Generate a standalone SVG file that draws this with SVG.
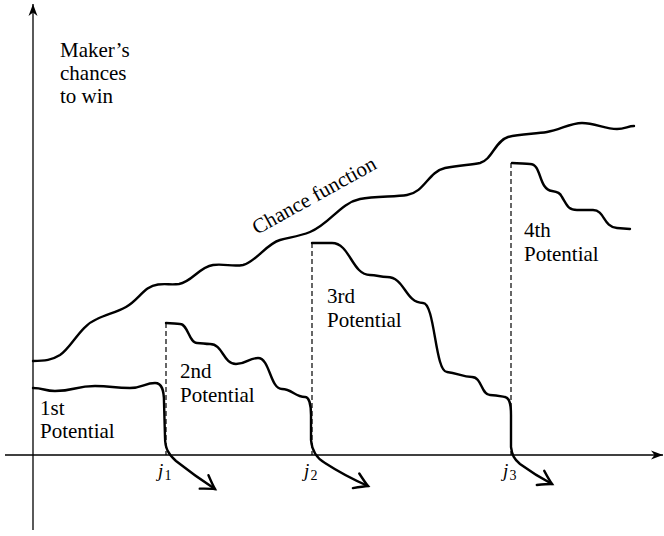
<svg xmlns="http://www.w3.org/2000/svg" width="664" height="536" viewBox="0 0 664 536">
<style>
text{font-family:"Liberation Serif","Times New Roman",serif;font-size:21px;fill:#000}
.ax{fill:none;stroke:#000;stroke-width:1.3}
.cv{fill:none;stroke:#000;stroke-width:2.4;stroke-linejoin:round;stroke-linecap:round}
.dash{fill:none;stroke:#000;stroke-width:1.2;stroke-dasharray:5 3}
.j{font-style:italic;font-size:19px}
.sub{font-size:14px}
</style>
<defs>
<marker id="stealth" markerUnits="userSpaceOnUse" markerWidth="16" markerHeight="12" viewBox="-13 -6 14 12" refX="0" refY="0" orient="auto">
<path d="M0,0 L-12,-4.5 L-8.5,0 L-12,4.5 Z" fill="#000"/>
</marker>
<marker id="to" markerUnits="userSpaceOnUse" markerWidth="20" markerHeight="20" viewBox="-16 -10 20 20" refX="0" refY="0" orient="auto">
<path d="M-13,-8 Q-4,-2 0,0 Q-4,2 -13,8" fill="none" stroke="#000" stroke-width="2.4" stroke-linecap="round"/>
</marker>
</defs>
<g id="axes">
<line class="ax" x1="33" y1="530" x2="33" y2="4" marker-end="url(#stealth)"/>
<line class="ax" x1="5" y1="455" x2="663" y2="455" marker-end="url(#stealth)"/>
</g>
<g id="connectors">
<line class="dash" x1="166" y1="323" x2="166" y2="455"/>
<line class="dash" x1="312" y1="243" x2="312" y2="455"/>
<line class="dash" x1="511" y1="163" x2="511" y2="455"/>
</g>
<g id="chance-function">
<path class="cv" d="M33,361 C45,361 52,360 60,355 C72,347 80,326 97,319 C108,314 117,312 126,307 C139,300 144,286 158,284.5 C166,283.5 171,285 179,284 C192,282 199,267 213,265 C225,263.5 232,267 243,265 C256,262 266,244 280,240 C292,237 300,236 310,232 C330,224 340,203 360,199 C375,196 395,197 407,195 C425,192 428,172 445,168 C460,165 470,165 480,163 C492,160 495,141 508,137 C520,134 535,134 547,132 C560,130 570,123 582,123 C595,123 605,129 617,129 C625,129 628,126 634,126"/>
<text transform="translate(257,235) rotate(-29)">Chance function</text>
</g>
<g id="potential-1">
<path class="cv" d="M33,388 C44,388 44,391 55,391 C75,391 75,386 95,386 C112,386 113,388 130,388 C142,388 145,383 155,383 C162,383 164,390 164,402 L165,437 C165,448 168,454 176,461 Q195,476 215,489" marker-end="url(#to)"/>
<text x="40" y="415">1st</text>
<text x="40" y="438">Potential</text>
</g>
<g id="potential-2">
<path class="cv" d="M166,323 C173,323 175,324 180,324 C188,324 189,343 197,343 C203,343 204,344 210,344 C223,344 223,364 236,364 C247,364 248,358 258,358 C270,358 270,389 282,389 C292,389 295,397 305,397 C309,397 311,405 311,415 L311,440 C312,451 316,458 325,463 Q345,476 368,486" marker-end="url(#to)"/>
<text x="180" y="378">2nd</text>
<text x="180" y="402">Potential</text>
</g>
<g id="potential-3">
<path class="cv" d="M312,243 L332,243 C350,243 352,275 370,275 C377,275 380,277 387,277 C405,277 405,303 423,303 C435,303 435,372 447,372 C458,373 462,377 472,377 C482,377 481,395 490,395 C496,395 500,396 505,397 C510,398 511,405 511,415 L511,447 C512,455 514,459 520,464 Q535,475 552,484" marker-end="url(#to)"/>
<text x="327" y="303">3rd</text>
<text x="327" y="327">Potential</text>
</g>
<g id="potential-4">
<path class="cv" d="M512,163 C520,163 524,164 530,164 C542,164 538,189 552,191 C558,192 560,193 562,197 C567,205 568,210 577,210 L593,210 C605,210 603,227 617,228 L630,229"/>
<text x="524" y="237">4th</text>
<text x="524" y="261">Potential</text>
</g>
<g id="label-y">
<text x="60" y="57">Maker’s</text>
<text x="60" y="80">chances</text>
<text x="60" y="103">to win</text>
</g>
<g id="label-j1"><text class="j" x="158" y="477">j</text><text class="sub" x="164.5" y="480">1</text></g>
<g id="label-j2"><text class="j" x="304" y="477">j</text><text class="sub" x="310.5" y="480">2</text></g>
<g id="label-j3"><text class="j" x="503" y="477">j</text><text class="sub" x="509.5" y="480">3</text></g>
</svg>
